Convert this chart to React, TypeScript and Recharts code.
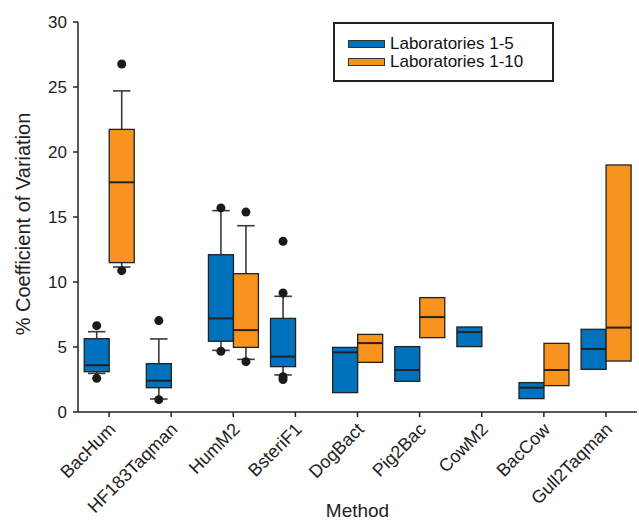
import { ComposedChart, Bar, XAxis, YAxis, Legend } from 'recharts'

const methods = ['BacHum', 'HF183Taqman', 'HumM2', 'BsteriF1', 'DogBact', 'Pig2Bac', 'CowM2', 'BacCow', 'Gull2Taqman']

// Laboratories 1-5
const lab5Low = [2.97, 1.0, 4.74, 2.85, 1.49, 2.36, 5.03, 1.03, 3.28]
const lab5Q1 = [3.1, 1.87, 5.44, 3.49, 1.49, 2.36, 5.03, 1.03, 3.28]
const lab5Median = [3.6, 2.41, 7.2, 4.26, 4.59, 3.23, 6.15, 1.87, 4.85]
const lab5Q3 = [5.64, 3.72, 12.1, 7.2, 4.97, 5.03, 6.54, 2.26, 6.36]
const lab5High = [6.18, 5.62, 15.49, 8.9, 4.97, 5.03, 6.54, 2.26, 6.36]
const lab5Outliers = [[6.64, 2.59], [7.03, 0.95], [15.7, 4.67], [13.13, 9.15, 2.72, 2.5], [], [], [], [], []]

// Laboratories 1-10
const lab10Low = [11.15, null, 4.05, null, 3.82, 5.72, null, 2.03, 3.92]
const lab10Q1 = [11.49, null, 4.97, null, 3.82, 5.72, null, 2.03, 3.92]
const lab10Median = [17.67, null, 6.3, null, 5.3, 7.3, null, 3.23, 6.49]
const lab10Q3 = [21.74, null, 10.64, null, 5.97, 8.8, null, 5.28, 19.0]
const lab10High = [24.7, null, 14.33, null, 5.97, 8.8, null, 5.28, 19.0]
const lab10Outliers = [[26.77, 10.87], [], [15.38, 3.87], [], [], [], [], [], []]

const yTicks = [0, 5, 10, 15, 20, 25, 30]
const seriesNames = ['Laboratories 1-5', 'Laboratories 1-10']

type Box = { lo: number; q1: number; med: number; q3: number; hi: number; out: number[] }

const makeBox = (lo: any, q1: any, med: any, q3: any, hi: any, out: number[]): Box | null =>
  lo == null ? null : { lo, q1, med, q3, hi, out }

const data = methods.map((m, i) => ({
  method: m,
  l5: makeBox(lab5Low[i], lab5Q1[i], lab5Median[i], lab5Q3[i], lab5High[i], lab5Outliers[i]),
  l10: makeBox(lab10Low[i], lab10Q1[i], lab10Median[i], lab10Q3[i], lab10High[i], lab10Outliers[i]),
}))

const BLUE = '#0071bc'
const ORANGE = '#f7931e'
const INK = '#222'
const FONT = '"Liberation Sans", Arial, sans-serif'

function BoxShape(props: any) {
  const { x, y, width, height, payload, fill, k } = props
  const b: Box | null = payload[k]
  if (!b || !height) return null
  // the bar spans lo..hi, so map values from its own geometry
  const ppu = height / (b.hi - b.lo)
  const py = (v: number) => y + (b.hi - v) * ppu
  const cx = x + width / 2
  const cap = width * 0.35
  return (
    <g>
      {b.hi > b.q3 && (
        <g stroke="#3a3a3a" strokeWidth={1.6}>
          <line x1={cx} x2={cx} y1={py(b.q3)} y2={py(b.hi)} />
          <line x1={cx - cap} x2={cx + cap} y1={py(b.hi)} y2={py(b.hi)} />
        </g>
      )}
      {b.lo < b.q1 && (
        <g stroke="#3a3a3a" strokeWidth={1.6}>
          <line x1={cx} x2={cx} y1={py(b.q1)} y2={py(b.lo)} />
          <line x1={cx - cap} x2={cx + cap} y1={py(b.lo)} y2={py(b.lo)} />
        </g>
      )}
      <rect x={x} y={py(b.q3)} width={width} height={py(b.q1) - py(b.q3)} fill={fill} stroke={INK} strokeWidth={1.3} />
      <line x1={x} x2={x + width} y1={py(b.med)} y2={py(b.med)} stroke={INK} strokeWidth={2} />
      {b.out.map((v, j) => (
        <circle key={j} cx={cx} cy={py(v)} r={4.5} fill="#1a1a1a" />
      ))}
    </g>
  )
}

function MethodTick(props: any) {
  const { x, y, payload } = props
  const tx = x + 3
  return (
    <text
      x={tx}
      y={y}
      dy="0.35em"
      textAnchor="end"
      transform={`rotate(-45 ${tx} ${y})`}
      fontFamily={FONT}
      fontSize={18}
      fill={INK}
    >
      {payload.value}
    </text>
  )
}

function LegendBox(props: any) {
  const items = [...(props.payload || [])].sort(
    (a: any, b: any) => seriesNames.indexOf(a.value) - seriesNames.indexOf(b.value)
  )
  return (
    <div style={{ border: `2px solid ${INK}`, padding: '11px 0 0 13px', fontFamily: FONT, fontSize: 17, color: '#111', boxSizing: 'border-box', width: 221, height: 60, background: '#fff' }}>
      {items.map((it: any) => (
        <div key={it.value} style={{ display: 'flex', alignItems: 'center', height: 18, lineHeight: '18px' }}>
          <span style={{ display: 'inline-block', width: 35, height: 6, background: it.color, border: '1px solid #333', marginRight: 5 }} />
          <span>{it.value}</span>
        </div>
      ))}
    </div>
  )
}

const YLabel = (props: any) => {
  const vb = props.viewBox
  const cx = vb.x + 23
  const cy = vb.y + vb.height / 2 + 7
  return (
    <text x={cx} y={cy} transform={`rotate(-90 ${cx} ${cy})`} textAnchor="middle" dominantBaseline="central" fontFamily={FONT} fontSize={20} fill={INK}>
      % Coefficient of Variation
    </text>
  )
}

export default function App() {
  return (
    <div style={{ position: 'absolute', left: 0, top: 0 }}>
      <ComposedChart
        width={639}
        height={521}
        data={data}
        margin={{ top: 22, right: 2, bottom: 0, left: 0 }}
        barCategoryGap="10%"
        barGap={0}
      >
        <XAxis
          dataKey="method"
          height={109}
          interval={0}
          tick={<MethodTick />}
          tickSize={5}
          tickMargin={9}
          axisLine={{ stroke: INK, strokeWidth: 1.5 }}
          tickLine={{ stroke: INK, strokeWidth: 1.5 }}
          label={{ value: 'Method', position: 'insideBottom', offset: 4, fontSize: 19, fill: INK, fontFamily: FONT }}
        />
        <YAxis
          width={78}
          domain={[0, 30]}
          ticks={yTicks}
          allowDataOverflow
          tick={{ fontSize: 17, fill: INK, fontFamily: FONT }}
          tickSize={5}
          tickMargin={6}
          axisLine={{ stroke: INK, strokeWidth: 1.5 }}
          tickLine={{ stroke: INK, strokeWidth: 1.5 }}
          label={<YLabel />}
        />
        <Legend
          layout="vertical"
          align="center"
          verticalAlign="middle"
          wrapperStyle={{ top: 22, left: 333, width: 221 }}
          content={<LegendBox />}
        />
        <Bar
          name={seriesNames[0]}
          dataKey={(d: any) => (d.l5 ? [d.l5.lo, d.l5.hi] : null)}
          fill={BLUE}
          isAnimationActive={false}
          shape={(p: any) => <BoxShape {...p} k="l5" />}
        />
        <Bar
          name={seriesNames[1]}
          dataKey={(d: any) => (d.l10 ? [d.l10.lo, d.l10.hi] : null)}
          fill={ORANGE}
          isAnimationActive={false}
          shape={(p: any) => <BoxShape {...p} k="l10" />}
        />
      </ComposedChart>
    </div>
  )
}
